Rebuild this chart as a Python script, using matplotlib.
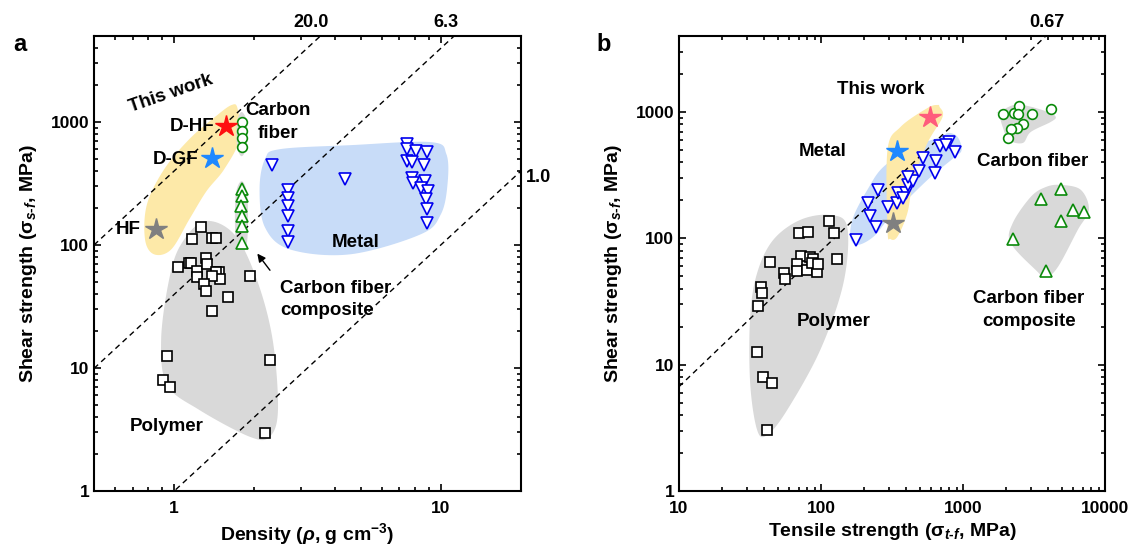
import numpy as np
import matplotlib
matplotlib.use("Agg")
import matplotlib.pyplot as plt
from matplotlib.ticker import FixedLocator, FuncFormatter, LogLocator, NullFormatter

plt.rcParams['font.family'] = ['Liberation Sans', 'DejaVu Sans']
plt.rcParams['font.weight'] = 'bold'
plt.rcParams['mathtext.fontset'] = 'custom'
plt.rcParams['mathtext.rm'] = 'Liberation Sans:bold'
plt.rcParams['mathtext.it'] = 'Liberation Sans:bold:italic'
plt.rcParams['mathtext.bf'] = 'Liberation Sans:bold'

# ---------------- panel a : density vs shear strength ----------------
a_polymer_x = [1.26, 1.17, 1.39, 1.44, 1.03, 1.14, 1.16, 1.32, 1.22, 1.33, 1.47, 1.44, 1.49,
               1.22, 1.38, 1.29, 1.32, 1.92, 1.59, 1.39, 0.94, 0.91, 0.96, 2.28, 2.19]
a_polymer_y = [139, 111, 115, 115, 66, 72, 71, 78, 62, 69.5, 60, 60, 53,
               54.5, 55.5, 48.6, 41.9, 55.5, 38.1, 29.3, 12.6, 8.0, 7.0, 11.7, 2.97]
a_metal_x = [2.32, 2.67, 2.67, 2.67, 2.67, 2.67, 2.67, 4.38, 7.44, 7.5, 8.05, 8.86,
             7.44, 7.78, 8.62, 7.78, 8.7, 7.9, 8.4, 8.95, 8.78, 8.86, 8.86]
a_metal_y = [445, 279, 240, 206, 171, 131, 105, 343, 661, 601, 579, 568,
             480, 471, 445, 349, 330, 318, 289, 273, 235, 195, 150]
a_cf_x = [1.79, 1.79, 1.79, 1.79]
a_cf_y = [1000, 850, 740, 630]
a_cfc_x = [1.79, 1.80, 1.78, 1.79, 1.80, 1.79]
a_cfc_y = [284, 249, 206, 171, 142, 103]
a_star_x = [1.57, 1.39, 0.855]
a_star_y = [920, 508, 134]
a_guides = [20.0, 6.3, 1.0]

# envelopes (data coords)
a_work_env = ([1.73, 1.76, 1.54, 1.32, 1.14, 0.974, 0.84, 0.777, 0.79, 0.917, 1.14, 1.42, 1.64],
              [1274, 726, 413, 273, 162, 92, 84, 111, 214, 413, 726, 1096, 1373])
a_cf_env = ([1.79, 1.87, 1.87, 1.79, 1.72, 1.72], [1205, 1000, 640, 527, 640, 1000])
a_cfc_env = ([1.79, 1.88, 1.88, 1.79, 1.70, 1.70], [330, 250, 110, 87, 110, 250])
a_metal_env = ([2.49, 4.58, 9.17, 10.5, 10.6, 10.0, 8.4, 4.58, 2.72, 2.19, 2.09, 2.19],
               [601, 648, 686, 547, 312, 177, 122, 84, 92, 139, 284, 499])
a_poly_env = ([1.30, 1.68, 2.04, 2.34, 2.45, 2.28, 1.92, 1.24, 0.94, 0.893, 0.957, 1.06],
              [156, 122, 52.5, 17, 4.57, 2.76, 2.76, 4.57, 7.31, 17, 52.5, 101])

# ---------------- panel b : tensile vs shear strength ----------------
b_polymer_x = [113, 70.3, 81.3, 124, 43.9, 72.6, 84, 88.2, 68, 68, 80, 94.2, 86.9, 95.7,
               130, 55.1, 56, 37.9, 38.5, 36.1, 35.5, 39.2, 45.3, 41.8]
b_polymer_y = [137, 110, 112, 110, 65, 72.6, 71.3, 68.7, 62.7, 55.2, 56.2, 54.2, 63.9, 62.7,
               68.7, 53.2, 47.7, 41.2, 36.9, 29.2, 12.6, 8.0, 7.16, 3.04]
b_metal_x = [175, 242, 223, 216, 254, 294, 345, 351, 394, 381, 407, 448, 413, 486,
             519, 641, 631, 684, 791, 873, 754]
b_metal_y = [97, 123, 150, 191, 242, 177, 191, 229, 229, 209, 265, 285, 306, 342,
             433, 410, 330, 539, 580, 483, 549]
b_cf_x = [1903, 2275, 2468, 2428, 3047, 4150, 2636, 2389, 2167, 2063]
b_cf_y = [966, 984, 1117, 966, 966, 1057, 805, 748, 735, 624]
b_cfc_x = [4887, 3532, 5929, 7096, 4887, 2239, 3830]
b_cfc_y = [246, 205, 168, 162, 137, 99, 55.2]
b_star_x = [590, 345, 324]
b_star_y = [915, 492, 132]
b_guide = ([10, 3830], [6.7, 4000])

b_work_env = ([684, 718, 562, 448, 406, 345, 308, 294, 294, 363, 562, 662],
              [1098, 915, 569, 290, 159, 103, 99, 117, 501, 762, 1076, 1138])
b_metal_env = ([916, 978, 859, 562, 308, 234, 180, 161, 169, 212, 275, 448, 695, 791],
               [635, 501, 433, 290, 148, 103, 88.7, 103, 148, 242, 368, 529, 635, 684])
b_poly_env = ([116, 153, 144, 98.9, 57.8, 41.8, 35.5, 31.7, 31.7, 35.5, 46, 71.4],
              [153, 123, 44.4, 13.1, 4.38, 2.77, 3.04, 7.16, 23.9, 53.2, 97, 140])
b_cf_env = ([1754, 2275, 2855, 3953, 4500, 4150, 3000, 2636, 2100, 1903, 1783],
            [984, 1138, 1117, 1002, 915, 835, 695, 569, 601, 762, 984])
b_cfc_env = ([4887, 6761, 7700, 6440, 4660, 3830, 3250, 2167, 2239, 3000, 3830],
             [265, 242, 168, 117, 59.4, 49.4, 56.2, 92, 132, 213, 255])

YELLOW = '#fde9a8'
BLUE = '#c8dcf8'
GRAY = '#d9d9d9'
GREEN = '#0a8a0a'


def blob(ax, env, color):
    lx, ly = np.log10(env[0]), np.log10(env[1])
    n = len(lx)
    px, py = [], []
    for i in range(n):
        i0, i1, i2, i3 = (i - 1) % n, i, (i + 1) % n, (i + 2) % n
        for t in np.linspace(0, 1, 16, endpoint=False):
            t2, t3 = t * t, t * t * t
            c0 = -0.5 * t3 + t2 - 0.5 * t
            c1 = 1.5 * t3 - 2.5 * t2 + 1
            c2 = -1.5 * t3 + 2 * t2 + 0.5 * t
            c3 = 0.5 * t3 - 0.5 * t2
            px.append(c0 * lx[i0] + c1 * lx[i1] + c2 * lx[i2] + c3 * lx[i3])
            py.append(c0 * ly[i0] + c1 * ly[i1] + c2 * ly[i2] + c3 * ly[i3])
    ax.fill(10 ** np.array(px), 10 ** np.array(py), color=color, lw=0, zorder=0)


def style(ax, xmajor):
    ax.set_xscale('log')
    ax.set_yscale('log')
    ax.xaxis.set_major_locator(FixedLocator(xmajor))
    ax.yaxis.set_major_locator(FixedLocator([1, 10, 100, 1000]))
    ax.xaxis.set_minor_locator(LogLocator(base=10, subs=np.arange(2, 10)))
    ax.yaxis.set_minor_locator(LogLocator(base=10, subs=np.arange(2, 10)))
    fmt = FuncFormatter(lambda v, _: f"{v:g}")
    ax.xaxis.set_major_formatter(fmt)
    ax.yaxis.set_major_formatter(fmt)
    ax.xaxis.set_minor_formatter(NullFormatter())
    ax.yaxis.set_minor_formatter(NullFormatter())
    ax.tick_params(which='both', direction='in', top=True, right=True, width=1.2, labelsize=12.5)
    ax.tick_params(axis='x', pad=7)
    ax.tick_params(which='major', length=5)
    ax.tick_params(which='minor', length=3)
    for s in ax.spines.values():
        s.set_linewidth(1.5)


fig = plt.figure(figsize=(11.32, 5.48), dpi=100)
ax1 = fig.add_axes([94 / 1132, 57 / 548, 427 / 1132, 455 / 548])
ax2 = fig.add_axes([679 / 1132, 57 / 548, 426 / 1132, 455 / 548])

sq = dict(marker='s', ms=6.5, mfc='white', mec='black', mew=1.2, ls='none', zorder=3)
tv = dict(marker='v', ms=8, mfc='white', mec='#0000ee', mew=1.2, ls='none', zorder=3)
tu = dict(marker='^', ms=8, mfc='white', mec=GREEN, mew=1.2, ls='none', zorder=3)
ci = dict(marker='o', ms=7, mfc='white', mec=GREEN, mew=1.2, ls='none', zorder=3)
dash = dict(color='black', lw=1, ls=(0, (4, 3)), zorder=2)
lab = dict(fontsize=14, fontweight='bold')

# ----- panel a -----
for env, c in [(a_work_env, YELLOW), (a_cf_env, GRAY), (a_cfc_env, GRAY),
               (a_metal_env, BLUE), (a_poly_env, GRAY)]:
    blob(ax1, env, c)
rho = np.array([0.5, 20])
for k in a_guides:
    ax1.plot(rho, (k * rho) ** 2, **dash)
ax1.plot(a_polymer_x, a_polymer_y, **sq)
ax1.plot(a_metal_x, a_metal_y, **tv)
ax1.plot(a_cf_x, a_cf_y, **ci)
ax1.plot(a_cfc_x, a_cfc_y, **tu)
for x, y, c in zip(a_star_x, a_star_y, ['#ff1010', '#1e88ff', '#808080']):
    ax1.plot(x, y, marker='*', ms=16, color=c, mec=c, ls='none', zorder=4)

ax1.set_xlim(0.5, 20)
ax1.set_ylim(1, 5000)
style(ax1, [1, 10])
ax1.set_xlabel(r'Density ($\rho$, g cm$^{-3}$)', **lab)
ax1.set_ylabel(r'Shear strength (σ$_{s\text{-}f}$, MPa)', labelpad=8, **lab)

fs = 13.5
ax1.text(0.97, 1700, 'This work', fontsize=fs, rotation=19, ha='center', va='center')
ax1.text(1.42, 925, 'D-HF', fontsize=fs, ha='right', va='center')
ax1.text(1.23, 500, 'D-GF', fontsize=fs, ha='right', va='center')
ax1.text(0.75, 134, 'HF', fontsize=fs, ha='right', va='center')
ax1.text(2.45, 1000, 'Carbon\nfiber', fontsize=fs, ha='center', va='center', linespacing=1.45)
ax1.text(4.78, 105, 'Metal', fontsize=fs, ha='center', va='center')
ax1.text(2.49, 36, 'Carbon fiber\ncomposite', fontsize=fs, ha='left', va='center', linespacing=1.45)
ax1.text(0.933, 3.32, 'Polymer', fontsize=fs, ha='center', va='center')
ax1.annotate('', xy=(2.02, 88.7), xytext=(2.32, 59.8),
             arrowprops=dict(arrowstyle='-|>', color='black', lw=1, mutation_scale=12))
for k, xl in zip(['20.0', '6.3'], [3.26, 10.5]):
    ax1.text(xl, 1.012, k, fontsize=13, ha='center', va='bottom',
             transform=ax1.get_xaxis_transform())
ax1.text(23.2, 356, '1.0', fontsize=13, ha='center', va='center', clip_on=False)

# ----- panel b -----
for env, c in [(b_poly_env, GRAY), (b_metal_env, BLUE), (b_work_env, YELLOW),
               (b_cf_env, GRAY), (b_cfc_env, GRAY)]:
    blob(ax2, env, c)
gx = np.log10(b_guide[0])
gy = np.log10(b_guide[1])
slope = (gy[1] - gy[0]) / (gx[1] - gx[0])
xs = np.array([10, 10000])
ax2.plot(xs, 10 ** (gy[0] + slope * (np.log10(xs) - gx[0])), **dash)
ax2.plot(b_polymer_x, b_polymer_y, **sq)
ax2.plot(b_metal_x, b_metal_y, **tv)
ax2.plot(b_cf_x, b_cf_y, **ci)
ax2.plot(b_cfc_x, b_cfc_y, **tu)
for x, y, c in zip(b_star_x, b_star_y, ['#ff5c7c', '#1e88ff', '#808080']):
    ax2.plot(x, y, marker='*', ms=16, color=c, mec=c, ls='none', zorder=4)

ax2.set_xlim(10, 10000)
ax2.set_ylim(1, 4000)
style(ax2, [10, 100, 1000, 10000])
ax2.set_xlabel(r'Tensile strength (σ$_{t\text{-}f}$, MPa)', **lab)
ax2.set_ylabel(r'Shear strength (σ$_{s\text{-}f}$, MPa)', labelpad=8, **lab)

ax2.text(262, 1497, 'This work', fontsize=fs, ha='center', va='center')
ax2.text(102, 483, 'Metal', fontsize=fs, ha='center', va='center')
ax2.text(3100, 403, 'Carbon fiber', fontsize=fs, ha='center', va='center')
ax2.text(2904, 27.1, 'Carbon fiber\ncomposite', fontsize=fs, ha='center', va='center', linespacing=1.45)
ax2.text(122, 21.8, 'Polymer', fontsize=fs, ha='center', va='center')
ax2.text(3900, 1.012, '0.67', fontsize=13, ha='center', va='bottom',
         transform=ax2.get_xaxis_transform())

fig.text(0.012, 0.918, 'a', fontsize=17, fontweight='bold', va='center')
fig.text(0.527, 0.918, 'b', fontsize=17, fontweight='bold', va='center')

fig.savefig('out.png', dpi=100)
